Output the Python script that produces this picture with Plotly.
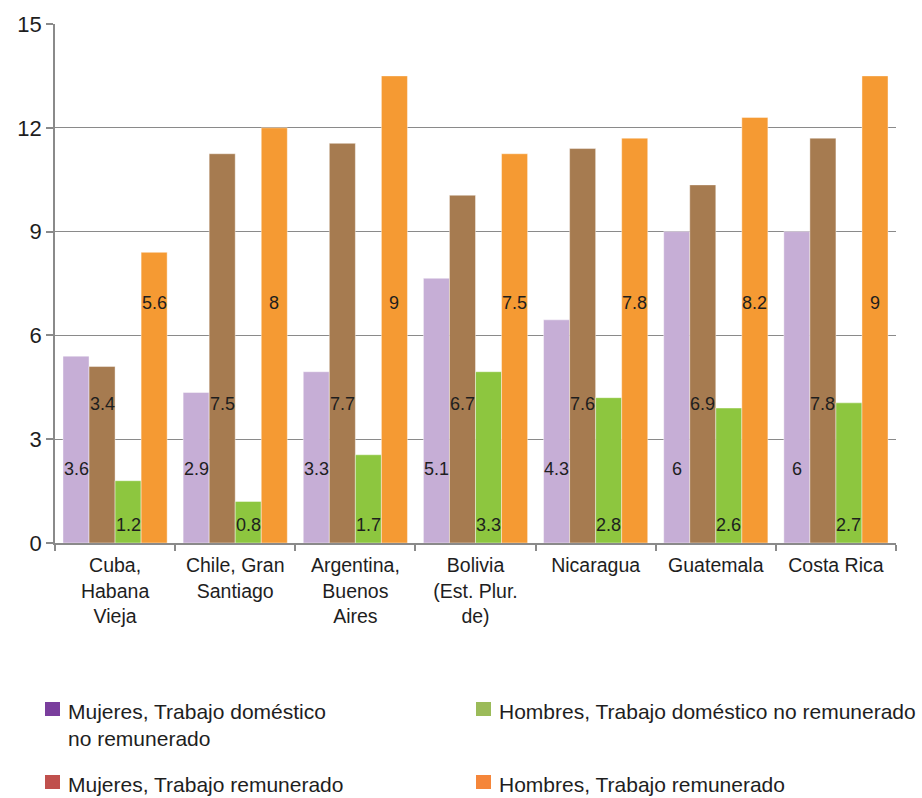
import plotly.graph_objects as go

# Categories (x-axis tick labels)
ciudades = [
    "Cuba,<br>Habana<br>Vieja",
    "Chile, Gran<br>Santiago",
    "Argentina,<br>Buenos<br>Aires",
    "Bolivia<br>(Est. Plur.<br>de)",
    "Nicaragua",
    "Guatemala",
    "Costa Rica",
]

# Hours per series
mujeres_domestico = [3.6, 2.9, 3.3, 5.1, 4.3, 6, 6]
mujeres_remunerado = [3.4, 7.5, 7.7, 6.7, 7.6, 6.9, 7.8]
hombres_domestico = [1.2, 0.8, 1.7, 3.3, 2.8, 2.6, 2.7]
hombres_remunerado = [5.6, 8, 9, 7.5, 7.8, 8.2, 9]

series_names = [
    "Mujeres, Trabajo doméstico<br>no remunerado",
    "Mujeres, Trabajo remunerado",
    "Hombres, Trabajo doméstico no remunerado",
    "Hombres, Trabajo remunerado",
]

# Y-axis ticks
tick_positions = [0, 2, 4, 6, 8, 10]
tick_labels = ["0", "3", "6", "9", "12", "15"]

# ---- styling ----
W, H = 922, 798
ML, MR, MT, MB = 55, 26, 24, 255
FONT = "Liberation Sans, Arial, Helvetica, sans-serif"
TXT = "#1e1e1e"
GRID = "#8a8a8a"
BAR_COLORS = ["#c6aed6", "#a67b50", "#8dc63f", "#f59a33"]
LEGEND_COLORS = ["#7a3e9d", "#c0504d", "#9bbb59", "#f5863a"]
LABEL_Y = [1.43, 2.68, 0.35, 4.62]   # vertical placement of value labels per series
BARGAP = 0.133

values = [mujeres_domestico, mujeres_remunerado, hombres_domestico, hombres_remunerado]

fig = go.Figure()
for vals, color, name in zip(values, BAR_COLORS, series_names):
    fig.add_trace(go.Bar(
        x=ciudades, y=vals, name=name.replace("<br>", " "),
        marker=dict(color=color, line=dict(color="rgba(255,255,255,0.7)", width=0.6)),
        showlegend=False, hoverinfo="x+y",
    ))

# value labels
plot_w = W - ML - MR
cat_px = plot_w / len(ciudades)
bar_px = cat_px * (1 - BARGAP) / 4
annotations = []
for i, (vals, ly) in enumerate(zip(values, LABEL_Y)):
    offset = (i - 1.5) * bar_px
    for c, v in zip(ciudades, vals):
        annotations.append(dict(
            x=c, y=ly, xref="x", yref="y", text=f"{v:g}", showarrow=False,
            xshift=offset, font=dict(size=18, color=TXT, family=FONT),
        ))

# legend drawn below the plot
plot_h = H - MT - MB
def px_x(px):
    return (px - ML) / plot_w
def px_y(py):
    return (H - MB - py) / plot_h

legend_items = [
    (45, 702, 0),   # swatch left, swatch top, series index
    (45, 775, 1),
    (476, 702, 2),
    (476, 775, 3),
]
shapes = []
for sx, sy, k in legend_items:
    shapes.append(dict(
        type="rect", xref="paper", yref="paper",
        x0=px_x(sx), x1=px_x(sx + 15), y0=px_y(sy + 14), y1=px_y(sy),
        fillcolor=LEGEND_COLORS[k], line=dict(width=0),
    ))
    annotations.append(dict(
        x=px_x(sx + 21), y=px_y(sy - 4), xref="paper", yref="paper",
        xanchor="left", yanchor="top", align="left", showarrow=False,
        text=series_names[k], font=dict(size=21, color=TXT, family=FONT),
    ))

fig.update_layout(
    width=W, height=H,
    margin=dict(l=ML, r=MR, t=MT, b=MB, pad=0),
    paper_bgcolor="white", plot_bgcolor="white",
    barmode="group", bargap=BARGAP, bargroupgap=0,
    font=dict(family=FONT, color=TXT),
    showlegend=False,
    annotations=annotations, shapes=shapes,
    xaxis=dict(
        type="category", tickson="boundaries", ticks="outside", ticklen=6,
        tickcolor=GRID, tickwidth=1.5, showline=True, linecolor=GRID, linewidth=1.5,
        tickfont=dict(size=19.5, color=TXT, family=FONT), showgrid=False,
        ticklabelstandoff=4,
    ),
    yaxis=dict(
        range=[0, 10], tickvals=tick_positions, ticktext=tick_labels,
        showgrid=True, gridcolor=GRID, gridwidth=1.4, zeroline=False,
        showline=True, linecolor=GRID, linewidth=1.5,
        ticks="outside", ticklen=7, tickcolor=GRID, tickwidth=1.5,
        tickfont=dict(size=22, color=TXT, family=FONT),
    ),
)

fig.write_html("out.html")
